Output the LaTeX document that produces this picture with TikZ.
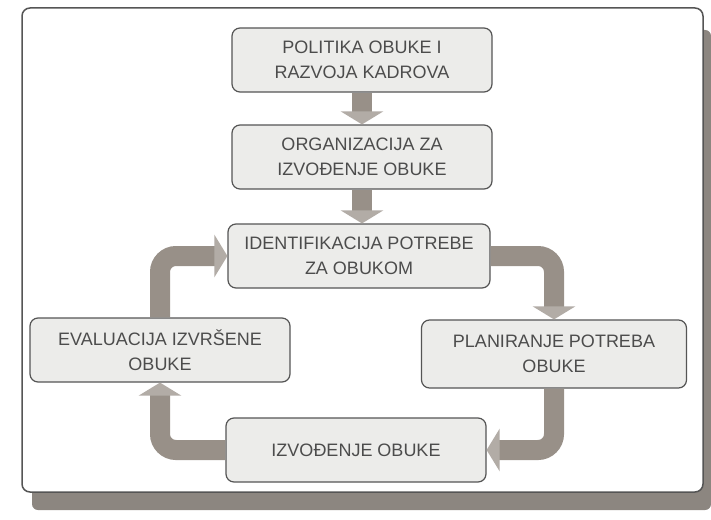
\documentclass[tikz,border=0pt]{standalone}
\usepackage{fontspec}
\setmainfont{Liberation Sans}
\usetikzlibrary{arrows.meta}

\definecolor{flowgray}{RGB}{152,144,136}
\definecolor{tipgray}{RGB}{178,172,166}
\definecolor{boxfill}{RGB}{236,236,234}
\definecolor{boxline}{RGB}{85,85,85}
\definecolor{shadowgray}{RGB}{140,134,128}

\tikzset{
  stage/.style={draw=boxline, fill=boxfill, rounded corners=8pt, line width=1.2pt,
    minimum width=260pt, minimum height=64pt, align=center, text=black!70,
    font=\fontsize{18}{25}\selectfont},
  flow/.style={draw=flowgray, line width=20pt, rounded corners=16pt,
    -{Triangle[length=13pt,width=42pt,color=tipgray]}},
}

\begin{document}
\begin{tikzpicture}[x=1pt, y=-1pt]
      \useasboundingbox (0,0) rectangle (711,519);
      % panel with its shadow
      \fill[shadowgray, rounded corners=6pt] (32,30) rectangle (711,510);
      \draw[boxline, fill=white, line width=1.5pt, rounded corners=8pt] (22,8) rectangle (703,492);

      \node[stage] (politika) at (362,60) {POLITIKA OBUKE I\\RAZVOJA KADROVA};
      \node[stage] (organizacija) at (362,157) {ORGANIZACIJA ZA\\IZVOĐENJE OBUKE};
      \node[stage, minimum width=262pt] (identifikacija) at (359,256) {IDENTIFIKACIJA POTREBE\\ZA OBUKOM};
      \node[stage] (evaluacija) at (160,350) {EVALUACIJA IZVRŠENE\\OBUKE};
      \node[stage, minimum width=265pt, minimum height=68pt] (planiranje) at (554,354) {PLANIRANJE POTREBA\\OBUKE};
      \node[stage] (izvodjenje) at (356,450) {IZVOĐENJE OBUKE};

      \draw[flow] (politika.south) -- (organizacija.north);
      \draw[flow] (organizacija.south) -- (organizacija.south |- identifikacija.north);
      \draw[flow] (identifikacija.east) -| (planiranje.north);
      \draw[flow] (planiranje.south) |- (izvodjenje.east);
      \draw[flow] (izvodjenje.west) -| (evaluacija.south);
      \draw[flow] (evaluacija.north) |- (identifikacija.west);
    \end{tikzpicture}
\end{document}
